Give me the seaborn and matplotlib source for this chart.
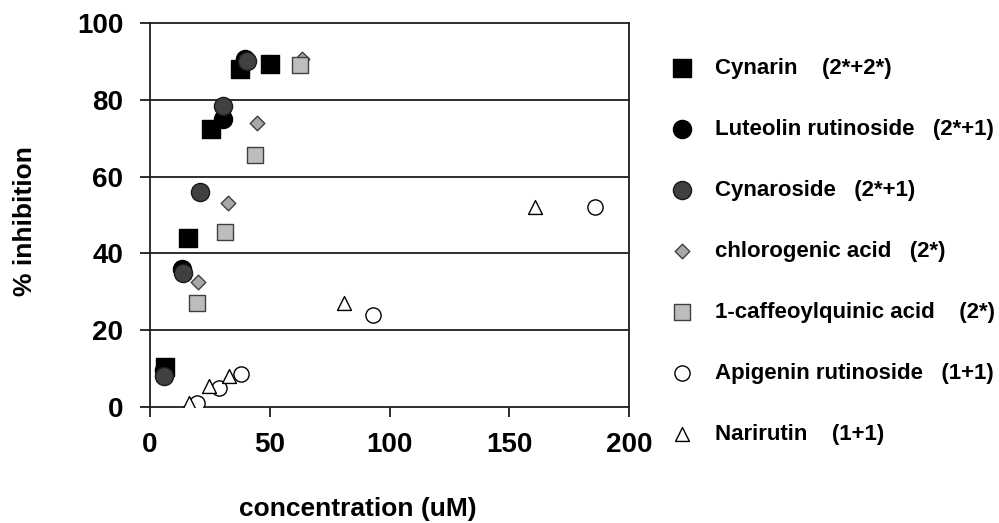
import matplotlib
matplotlib.use("Agg")
import matplotlib.pyplot as plt
import seaborn as sns
import pandas as pd

# ---- data ----
cynarin_x = [6.5, 16, 25.5, 37.5, 50]
cynarin_y = [10.5, 44, 72.5, 88, 89.3]
luteolin_x = [6, 13.5, 30.5, 39.5]
luteolin_y = [9.5, 36, 75, 90.5]
cynaroside_x = [6, 14, 21, 30.5, 40.5]
cynaroside_y = [8, 35, 56, 78.5, 90]
chlorogenic_x = [20, 32.5, 44.5, 63.5]
chlorogenic_y = [32.5, 53, 74, 90.5]
caffeoyl_x = [19.5, 31.5, 44, 62.5]
caffeoyl_y = [27, 45.5, 65.5, 89]
apigenin_x = [19.5, 29, 38, 93, 185.5]
apigenin_y = [1, 5, 8.5, 24, 52]
narirutin_x = [16.5, 24.5, 33, 81, 160.5]
narirutin_y = [1, 5.5, 8, 27, 52]

labels = [
    "Cynarin    (2*+2*)",
    "Luteolin rutinoside   (2*+1)",
    "Cynaroside   (2*+1)",
    "chlorogenic acid   (2*)",
    "1-caffeoylquinic acid    (2*)",
    "Apigenin rutinoside   (1+1)",
    "Narirutin    (1+1)",
]
xs = [cynarin_x, luteolin_x, cynaroside_x, chlorogenic_x, caffeoyl_x, apigenin_x, narirutin_x]
ys = [cynarin_y, luteolin_y, cynaroside_y, chlorogenic_y, caffeoyl_y, apigenin_y, narirutin_y]

x_ticks = [0, 50, 100, 150, 200]
y_ticks = [0, 20, 40, 60, 80, 100]

# ---- styles ----
markers = ["s", "o", "o", "D", "s", "o", "^"]
faces = ["#000000", "#000000", "#404040", "#a8a8a8", "#bdbdbd", "#ffffff", "#ffffff"]
edges = ["#000000", "#000000", "#1a1a1a", "#404040", "#404040", "#000000", "#000000"]
sizes = [170, 170, 170, 55, 120, 120, 100]

sns.set_style("white")
plt.rcParams["font.family"] = ["Liberation Sans", "DejaVu Sans"]
plt.rcParams["font.weight"] = "bold"
plt.rcParams["text.color"] = "black"
plt.rcParams["axes.labelcolor"] = "black"
plt.rcParams["xtick.color"] = "black"
plt.rcParams["ytick.color"] = "black"

fig = plt.figure(figsize=(9.99, 5.23), dpi=100)
ax = fig.add_axes([0.150, 0.222, 0.480, 0.734])

for lab, x, y, m, fc, ec, s in zip(labels, xs, ys, markers, faces, edges, sizes):
    df = pd.DataFrame({"x": x, "y": y})
    sns.scatterplot(data=df, x="x", y="y", ax=ax, marker=m, color=fc,
                    edgecolor=ec, linewidth=1.0, s=s, label=lab, zorder=3)

ax.set_xlim(0, 200)
ax.set_ylim(0, 100)
ax.set_xticks(x_ticks)
ax.set_yticks(y_ticks)
ax.set_xticklabels([str(t) for t in x_ticks], fontsize=20, fontweight="bold")
ax.set_yticklabels([str(t) for t in y_ticks], fontsize=20, fontweight="bold")

for yv in y_ticks[1:-1]:
    ax.axhline(yv, color="#1e1e1e", linewidth=1.3, zorder=1)

for sp in ax.spines.values():
    sp.set_visible(True)
    sp.set_color("#1e1e1e")
    sp.set_linewidth(1.3)

ax.tick_params(axis="both", which="major", direction="out", length=7,
               width=1.3, color="#1e1e1e", bottom=True, left=True)
ax.tick_params(axis="x", pad=11)
ax.tick_params(axis="y", pad=12)

ax.set_xlabel("concentration (uM)", fontsize=19, fontweight="bold")
ax.set_ylabel("% inhibition", fontsize=19, fontweight="bold")
ax.xaxis.set_label_coords(0.434, -0.234)
ax.yaxis.set_label_coords(-0.235, 0.484)

leg = ax.legend(loc="upper left", bbox_to_anchor=(0.660, 0.907),
                bbox_transform=fig.transFigure, frameon=False,
                prop={"size": 16, "weight": "bold"}, labelspacing=1.80,
                handletextpad=0.9, borderaxespad=0, handlelength=1.2)

fig.savefig("out.png", dpi=100)
